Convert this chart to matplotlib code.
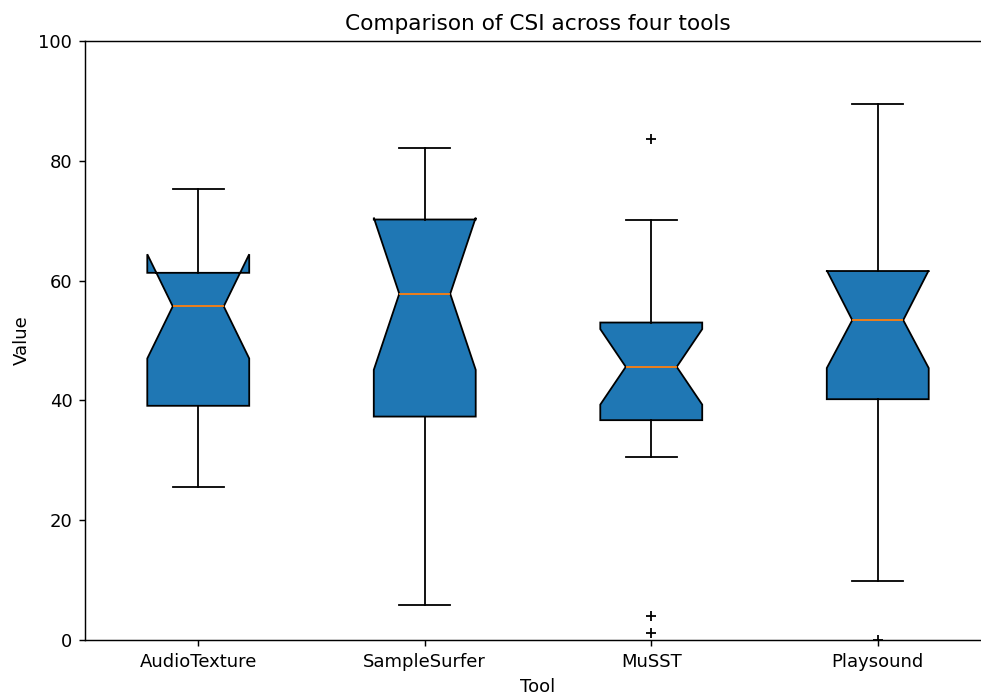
import matplotlib
matplotlib.use("Agg")
import matplotlib.pyplot as plt

# box statistics
tools = ['AudioTexture', 'SampleSurfer', 'MuSST', 'Playsound']
medians = [55.7, 57.8, 45.6, 53.4]
q1s = [39.1, 37.3, 36.7, 40.2]
q3s = [61.3, 70.2, 53.0, 61.6]
ci_lo = [47.0, 45.1, 39.3, 45.4]
ci_hi = [64.4, 70.5, 51.9, 61.7]
whis_lo = [25.6, 5.9, 30.6, 9.8]
whis_hi = [75.3, 82.1, 70.1, 89.4]
fliers = [[], [], [83.7, 4.0, 1.2], [0.0]]

stats = []
for i in range(len(tools)):
    stats.append({'label': tools[i], 'med': medians[i], 'q1': q1s[i], 'q3': q3s[i],
                  'cilo': ci_lo[i], 'cihi': ci_hi[i],
                  'whislo': whis_lo[i], 'whishi': whis_hi[i],
                  'fliers': fliers[i]})

DPI = 130
fig = plt.figure(figsize=(981/DPI, 696/DPI), dpi=DPI)
# reference is cropped on the right, so the axes run past the figure edge
ax = fig.add_axes([85/981, 56/696, 906/981, 599/696])

ax.bxp(stats, shownotches=True, patch_artist=True, widths=0.45,
       boxprops=dict(facecolor='#1f77b4', edgecolor='black'),
       medianprops=dict(color='#ff7f0e'),
       flierprops=dict(marker='+', markeredgecolor='black'))

ax.set_xlim(0.5, 4.5)
ax.set_ylim(0, 100)
ax.set_title('Comparison of CSI across four tools')
ax.set_xlabel('Tool')
ax.set_ylabel('Value')

fig.savefig('out.png', dpi=DPI)
